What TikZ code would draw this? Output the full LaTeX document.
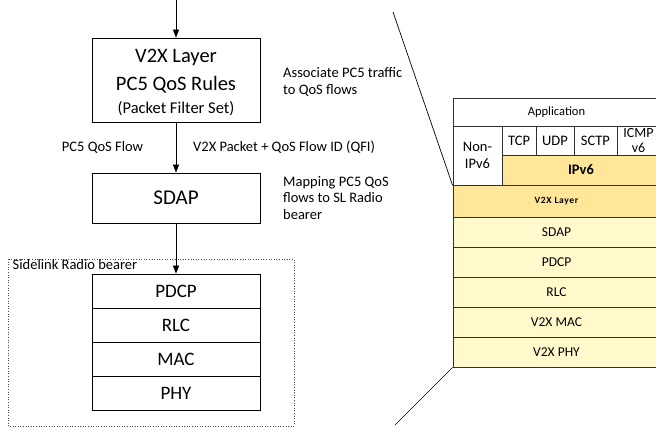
\documentclass[tikz,border=0pt]{standalone}
\usepackage{fontspec}
\setmainfont{Carlito}
\usetikzlibrary{arrows.meta}
\definecolor{layerorange}{HTML}{FFE699}
\definecolor{layeryellow}{HTML}{FFF9CC}
\definecolor{cellline}{HTML}{303030}
\tikzset{
  bigbox/.style={draw=black, line width=0.8pt, minimum width=168pt, inner sep=0pt, align=center},
  stackbox/.style={bigbox, minimum height=34pt, font=\fontsize{19}{21}\selectfont},
  boxtext/.style={inner sep=0pt, anchor=base},
  flow/.style={line width=0.8pt, -{Triangle[length=8pt,width=6pt]}},
  note/.style={inner sep=0pt, font=\fontsize{14.5}{16.5}\selectfont, align=left},
  cell/.style={draw=cellline, line width=0.8pt, inner sep=0pt, align=center, font=\fontsize{13.5}{15}\selectfont},
  protocell/.style={cell, font=\fontsize{14.5}{16.5}\selectfont},
  wedge/.style={line width=0.7pt}
}
\begin{document}
\begin{tikzpicture}[x=1pt, y=-1pt]
\path[use as bounding box, clip] (0,0) rectangle (656,427);

% ---- left: QoS handling chain ----
\coordinate (feed) at (176,0);
\node[bigbox, minimum height=84pt] (v2x) at (176,80) {};
\node[boxtext, font=\fontsize{20.5}{22}\selectfont] (v2xt1) at (176,62.5) {V2X Layer};
\node[boxtext, font=\fontsize{20.5}{22}\selectfont] (v2xt2) at (176,91) {PC5 QoS Rules};
\node[boxtext, font=\fontsize{16.5}{18}\selectfont] (v2xt3) at (176,113.5) {(Packet Filter Set)};
\node[bigbox, minimum height=50pt, font=\fontsize{21}{23}\selectfont] (sdap) at (176,198) {SDAP};

% sidelink radio bearer
\draw[dotted, line width=0.6pt, black!70] (8,259) rectangle (294,426);
\node[anchor=base west, inner sep=0pt, font=\fontsize{14.5}{16}\selectfont] (slrb) at (12.5,270) {Sidelink Radio bearer};
\node[stackbox] (pdcp) at (176,291) {PDCP};
\node[stackbox] (rlc)  at (176,325) {RLC};
\node[stackbox] (mac)  at (176,359) {MAC};
\node[stackbox] (phy)  at (176,393) {PHY};

\draw[flow] (feed) -- (v2x.north);
\draw[flow] (v2x.south) -- (sdap.north);
\draw[flow] (sdap.south) -- (pdcp.north);

\node[note, anchor=base] (pc5flow) at (102.5,151.5) {PC5 QoS Flow};
\node[note, anchor=base west] (qfi) at (193,151.5) {V2X Packet + QoS Flow ID (QFI)};
\node[note, anchor=north west] (assoc) at (283,67.5) {Associate PC5 traffic\\to QoS flows};
\node[note, anchor=north west] (mapping) at (283,176) {Mapping PC5 QoS\\flows to SL Radio\\bearer};

% ---- right: V2X protocol stack ----
\node[cell, minimum width=207pt, minimum height=28pt, font=\fontsize{12.5}{14}\selectfont] (app) at (556.5,112) {Application};
\node[protocell, minimum width=49pt, minimum height=59pt, font=\fontsize{14.5}{17.5}\selectfont] (nonip) at (477.5,155.5) {Non-\\IPv6};
\node[protocell, minimum width=34pt, minimum height=29pt] (tcp) at (519,140.5) {TCP};
\node[protocell, minimum width=38pt, minimum height=29pt] (udp) at (555,140.5) {UDP};
\node[protocell, minimum width=43pt, minimum height=29pt] (sctp) at (595.5,140.5) {SCTP};
\node[protocell, minimum width=43pt, minimum height=29pt, font=\fontsize{14}{15.5}\selectfont] (icmp) at (638.5,140.5) {ICMP\\v6};
\node[cell, fill=layerorange, minimum width=158pt, minimum height=30pt, font=\fontsize{14.5}{16}\selectfont\bfseries] (ipv6) at (581,170) {IPv6};
\node[cell, fill=layerorange, minimum width=207pt, minimum height=32pt, font=\fontsize{9.5}{11}\selectfont\bfseries\addfontfeatures{LetterSpace=7}] (v2xl) at (556.5,201) {V2X Layer};
\node[cell, fill=layeryellow, minimum width=207pt, minimum height=30pt] (sdapr) at (556.5,232) {SDAP};
\node[cell, fill=layeryellow, minimum width=207pt, minimum height=30pt] (pdcpr) at (556.5,262) {PDCP};
\node[cell, fill=layeryellow, minimum width=207pt, minimum height=30pt] (rlcr) at (556.5,292) {RLC};
\node[cell, fill=layeryellow, minimum width=207pt, minimum height=30pt] (macr) at (556.5,322) {V2X MAC};
\node[cell, fill=layeryellow, minimum width=207pt, minimum height=30pt] (phyr) at (556.5,352) {V2X PHY};

% zoom-out wedge lines
\coordinate (wtop) at (393,12);
\coordinate (wbot) at (395,425);
\draw[wedge] (wtop) -- (nonip.south west);
\draw[wedge] (phyr.south west) -- (wbot);
\end{tikzpicture}
\end{document}
